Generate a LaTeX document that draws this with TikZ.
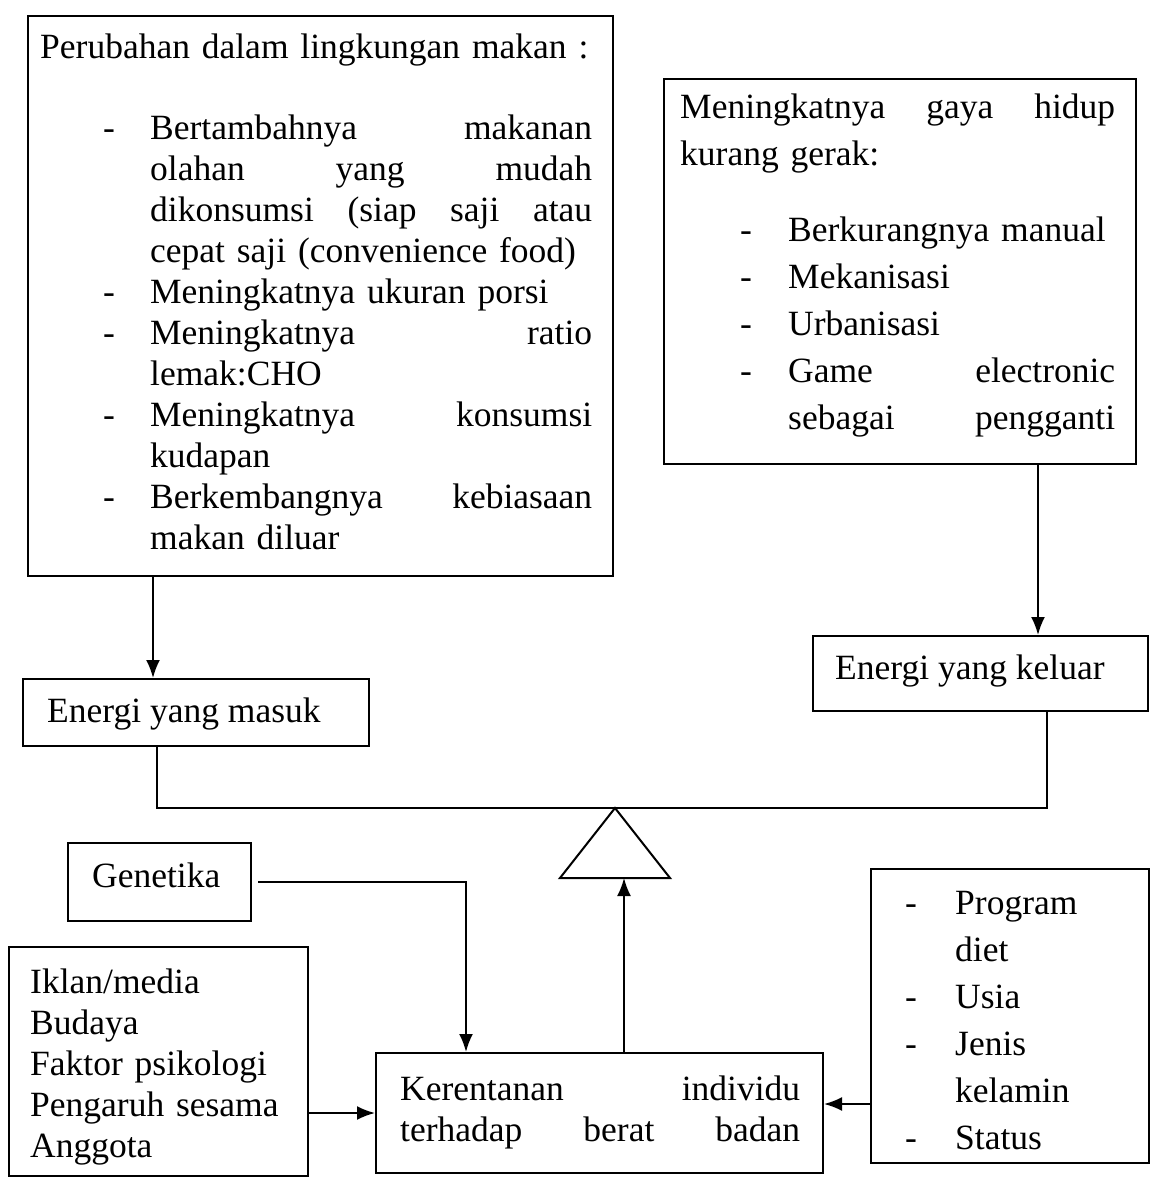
\documentclass[tikz,border=0pt]{standalone}
\usepackage{fontspec}
\setmainfont{Liberation Serif}
\usetikzlibrary{arrows.meta}
\newcommand\fa{\fontsize{35.5}{41}\selectfont}
\newcommand\fb{\fontsize{35.5}{47}\selectfont}
\newcommand\jset{\leftskip=0pt\rightskip=0pt\parfillskip=0pt plus 1fil\parindent=0pt\hyphenpenalty=10000\exhyphenpenalty=10000\tolerance=10000\hbadness=10000}
\newcommand\hf{\hspace{\fill}}
\newcommand\ditem[3]{\noindent\hangindent=#2\hangafter=1\makebox[#2][l]{\strut\hspace*{#1}-}#3\par}
\begin{document}
\begin{tikzpicture}[x=1pt,y=-1pt,
  box/.style={draw, rectangle, inner sep=0pt, anchor=north west, line width=2pt},
  txt/.style={anchor=north west, inner sep=0pt},
  lbl/.style={anchor=base west, inner sep=0pt, font=\fa},
  arr/.style={-{Latex[length=18pt,width=14pt]}, line width=2pt}]
\useasboundingbox (0,0) rectangle (1151,1180);
% boxes
\node[box, minimum width=585pt, minimum height=560pt] (b1) at (27,15) {};
\node[box, minimum width=472pt, minimum height=385pt] (b2) at (663,78) {};
\node[box, minimum width=346pt, minimum height=67pt] (em) at (22,678) {};
\node[box, minimum width=335pt, minimum height=75pt] (ek) at (812,635) {};
\node[box, minimum width=183pt, minimum height=78pt] (gen) at (67,842) {};
\node[box, minimum width=299pt, minimum height=229pt] (ik) at (8,946) {};
\node[box, minimum width=447pt, minimum height=120pt] (ker) at (375,1052) {};
\node[box, minimum width=278pt, minimum height=294pt] (rb) at (870,868) {};
% texts
\node[txt, text width=552pt, font=\fa] (t1) at (40,29.3) {\jset\strut Perubahan dalam lingkungan makan :\par\vspace{40pt}%
\ditem{63pt}{110pt}{Bertambahnya\hf makanan\newline olahan\hf yang\hf mudah\newline dikonsumsi\hf (siap\hf saji\hf atau\newline cepat saji (convenience food)}%
\ditem{63pt}{110pt}{Meningkatnya ukuran porsi}%
\ditem{63pt}{110pt}{Meningkatnya\hf ratio\newline lemak:CHO}%
\ditem{63pt}{110pt}{Meningkatnya\hf konsumsi\newline kudapan}%
\ditem{63pt}{110pt}{Berkembangnya\hf kebiasaan\newline makan diluar}};
\node[txt, text width=435pt, font=\fb] (t2) at (680,85.1) {\jset\strut Meningkatnya\hf gaya\hf hidup\newline kurang gerak:\par\vspace{29pt}%
\ditem{60pt}{108pt}{Berkurangnya manual}%
\ditem{60pt}{108pt}{Mekanisasi}%
\ditem{60pt}{108pt}{Urbanisasi}%
\ditem{60pt}{108pt}{Game\hf electronic\newline sebagai\hf pengganti}};
\node[txt, text width=240pt, font=\fb] (t3) at (905,881.1) {\jset\ditem{0pt}{50pt}{Program\newline diet}%
\ditem{0pt}{50pt}{Usia}%
\ditem{0pt}{50pt}{Jenis\newline kelamin}%
\ditem{0pt}{50pt}{Status}};
\node[txt, text width=280pt, font=\fa] (t4) at (30,964.3) {\jset\strut Iklan/media\newline Budaya\newline Faktor psikologi\newline Pengaruh sesama\newline Anggota\par};
\node[txt, text width=400pt, font=\fa] (t5) at (400,1071.3) {\jset\strut Kerentanan\hf individu\newline terhadap\hf berat\hf badan\par};
\node[lbl] (tg) at (92,887) {Genetika};
\node[lbl] (tem) at (47,722) {Energi yang masuk};
\node[lbl] (tek) at (835,679) {Energi yang keluar};
% connectors
\coordinate (xa) at (153,0);
\coordinate (xb) at (1038,0);
\coordinate (xc) at (624,0);
\coordinate (xd) at (466,0);
\coordinate (xg) at (258,0);
\coordinate (yr) at (0,1104);
\coordinate (bl) at (157,808);
\coordinate (br) at (1047,808);
\coordinate (apex) at (615,808);
\coordinate (tbl) at (560,878);
\coordinate (tbr) at (670,878);
\draw[arr] (b1.south -| xa) -- (em.north -| xa);
\draw[arr] (b2.south -| xb) -- (ek.north -| xb);
\draw[line width=2pt] (em.south -| bl) -- (bl) -- (br) -- (ek.south -| br);
\draw[line width=2pt, line join=miter] (apex) -- (tbl) -- (tbr) -- cycle;
\draw[arr] (ker.north -| xc) -- (tbl -| xc);
\draw[arr] (gen.east -| xg) -- (gen.east -| xd) -- (ker.north -| xd);
\draw[arr] (ik.east |- ker.west) -- (ker.west);
\draw[arr] (rb.west |- yr) -- (ker.east |- yr);
\end{tikzpicture}
\end{document}
